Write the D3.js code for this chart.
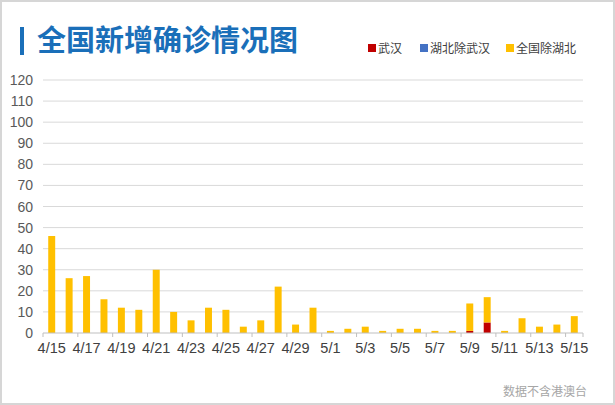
<!DOCTYPE html>
<meta charset="utf-8">
<style>
  body { margin: 0; background: #fff; }
  svg { display: block; font-family: "Liberation Sans", Arial, sans-serif; }
</style>
<svg></svg>
<script src="https://cdn.jsdelivr.net/npm/d3@7/dist/d3.min.js"></script>
<script>
// dates 4/15 .. 5/15
var dates = ["4/15","4/16","4/17","4/18","4/19","4/20","4/21","4/22","4/23","4/24",
             "4/25","4/26","4/27","4/28","4/29","4/30","5/1","5/2","5/3","5/4",
             "5/5","5/6","5/7","5/8","5/9","5/10","5/11","5/12","5/13","5/14","5/15"];

// new confirmed cases per group
var wuhan =        [0,0,0,0,0,0,0,0,0,0, 0,0,0,0,0,0,0,0,0,0, 0,0,0,0,1,5,0,0,0,0,0];
var hubeiExWuhan = [0,0,0,0,0,0,0,0,0,0, 0,0,0,0,0,0,0,0,0,0, 0,0,0,0,0,0,0,0,0,0,0];
var nationExHubei = [46,26,27,16,12,11,30,10,6,12, 11,3,6,22,4,12,1,2,3,1,
                     2,2,1,1,13,12,1,7,3,4,8];

var seriesNames = ["武汉", "湖北除武汉", "全国除湖北"];
var yTicks = [0,10,20,30,40,50,60,70,80,90,100,110,120];
var xTickLabels = dates.filter(function(d, i) { return i % 2 === 0; });

var colors = ["#c00000", "#4472c4", "#ffc000"];

var W = 615, H = 405;
var svg = d3.select("svg").attr("width", W).attr("height", H);

// frame
svg.append("rect")
   .attr("x", 1).attr("y", 1)
   .attr("width", W - 2).attr("height", H - 2)
   .attr("fill", "#fff")
   .attr("stroke", "#d6d6d6")
   .attr("stroke-width", 2);

// TITLE
svg.append("rect")
   .attr("x", 20).attr("y", 27)
   .attr("width", 4).attr("height", 28)
   .attr("fill", "#1a6fb9");
svg.append("text")
   .attr("x", 37).attr("y", 51)
   .attr("font-family", "'Noto Sans CJK SC', sans-serif")
   .attr("font-size", 29)
   .attr("font-weight", "bold")
   .attr("fill", "#1a6fb9")
   .text("全国新增确诊情况图");

// LEGEND
var legendX = [368, 420, 506];
var legend = svg.append("g").selectAll("g")
   .data(seriesNames)
   .join("g")
   .attr("transform", function(d, i) { return "translate(" + legendX[i] + ",44)"; });
legend.append("rect")
   .attr("width", 8).attr("height", 8)
   .attr("fill", function(d, i) { return colors[i]; });
legend.append("text")
   .attr("x", 10).attr("y", 8.5)
   .attr("font-family", "'Noto Sans CJK SC', sans-serif")
   .attr("font-size", 12)
   .attr("fill", "#404040")
   .text(function(d) { return d; });

// CHART
var margin = {left: 43, right: 32, top: 80, bottom: 72};
var width = W - margin.left - margin.right,
    height = H - margin.top - margin.bottom;

var g = svg.append("g").attr("transform", "translate(" + margin.left + "," + margin.top + ")");

var x = d3.scaleBand().domain(dates).range([0, width]).paddingInner(0.6).paddingOuter(0.3);
var y = d3.scaleLinear().domain([0, 120]).range([height, 0]);

// grid lines
g.append("g").selectAll("line")
 .data(yTicks.slice(1))
 .join("line")
 .attr("x1", 0).attr("x2", width)
 .attr("y1", function(d) { return y(d); })
 .attr("y2", function(d) { return y(d); })
 .attr("stroke", "#d9d9d9");

// y labels
g.append("g").selectAll("text")
 .data(yTicks)
 .join("text")
 .attr("x", -10)
 .attr("y", function(d) { return y(d) + 5; })
 .attr("text-anchor", "end")
 .attr("font-size", 14)
 .attr("fill", "#595959")
 .text(function(d) { return d; });

// stacked bars
var table = dates.map(function(d, i) {
  return {date: d, "武汉": wuhan[i], "湖北除武汉": hubeiExWuhan[i], "全国除湖北": nationExHubei[i]};
});
var stacked = d3.stack().keys(seriesNames)(table);

g.append("g").selectAll("g")
 .data(stacked)
 .join("g")
 .attr("fill", function(d, i) { return colors[i]; })
 .selectAll("rect")
 .data(function(d) { return d; })
 .join("rect")
 .attr("x", function(d) { return x(d.data.date); })
 .attr("y", function(d) { return y(d[1]); })
 .attr("width", x.bandwidth())
 .attr("height", function(d) { return y(d[0]) - y(d[1]); });

// x axis line + ticks every two days
var step = x.step();
var xAxis = g.append("g").attr("transform", "translate(0," + height + ")");
xAxis.append("line")
 .attr("x1", 0).attr("x2", width)
 .attr("stroke", "#bfbfbf");
var tickPos = d3.range(0, dates.length + 1, 2).map(function(i) { return i * step; });
tickPos.push(width);
xAxis.selectAll("line.tk")
 .data(tickPos)
 .join("line")
 .attr("class", "tk")
 .attr("x1", function(d) { return d; }).attr("x2", function(d) { return d; })
 .attr("y1", 0).attr("y2", 4)
 .attr("stroke", "#bfbfbf");
xAxis.selectAll("text")
 .data(xTickLabels)
 .join("text")
 .attr("x", function(d) { return x(d) + x.bandwidth() / 2; })
 .attr("y", 20)
 .attr("text-anchor", "middle")
 .attr("font-size", 14.5)
 .attr("fill", "#404040")
 .text(function(d) { return d; });

// source note
svg.append("text")
   .attr("x", 587).attr("y", 396)
   .attr("text-anchor", "end")
   .attr("font-family", "'Noto Sans CJK SC', sans-serif")
   .attr("font-size", 12)
   .attr("fill", "#a6a6a6")
   .text("数据不含港澳台");
</script>
